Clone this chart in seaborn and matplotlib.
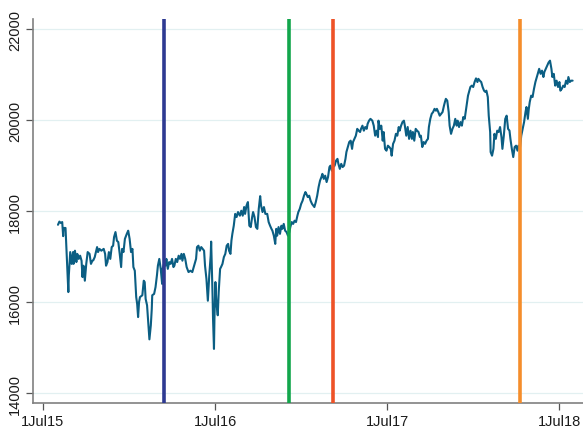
import numpy as np
import pandas as pd
import matplotlib
matplotlib.use("Agg")
import matplotlib.pyplot as plt
import matplotlib.dates as mdates
import seaborn as sns

# Trading-day offsets (days after 1 Jul 2015) and index closing levels
days = [32, 35, 38, 41, 43, 44, 48, 51, 54, 55, 58, 61, 64, 65, 68, 71, 73, 76, 79, 82,
        84, 86, 89, 92, 95, 99, 102, 105, 107, 110, 115, 117, 120, 124, 129, 132, 134, 137, 140, 143,
        146, 149, 151, 154, 157, 160, 163, 166, 168, 171, 174, 178, 181, 184, 187, 190, 192, 195, 198, 200,
        202, 204, 206, 211, 214, 216, 218, 221, 224, 226, 229, 231, 232, 236, 239, 242, 244, 247, 250, 253,
        254, 257, 260, 262, 265, 268, 271, 274, 277, 279, 282, 285, 288, 291, 294, 296, 299, 302, 305, 309,
        313, 317, 322, 325, 327, 330, 333, 336, 339, 342, 344, 347, 350, 353, 356, 357, 360, 361, 363, 364,
        366, 368, 371, 373, 376, 378, 381, 384, 387, 390, 393, 395, 398, 400, 402, 405, 408, 411, 414, 418,
        421, 424, 427, 429, 432, 435, 438, 441, 444, 446, 449, 452, 455, 458, 461, 463, 466, 469, 472, 476,
        479, 482, 485, 487, 490, 493, 495, 497, 500, 503, 506, 508, 511, 514, 517, 520, 523, 525, 528, 531,
        534, 537, 540, 542, 545, 548, 551, 554, 557, 559, 562, 565, 568, 571, 574, 576, 579, 582, 585, 588,
        591, 593, 596, 599, 602, 605, 608, 610, 613, 616, 619, 622, 625, 627, 630, 633, 636, 639, 642, 644,
        647, 650, 653, 656, 658, 661, 664, 667, 670, 673, 675, 678, 681, 684, 687, 689, 692, 695, 699, 702,
        705, 708, 711, 712, 715, 718, 721, 723, 726, 729, 732, 735, 738, 740, 743, 746, 749, 752, 755, 757,
        760, 763, 766, 768, 771, 774, 777, 780, 783, 785, 788, 791, 794, 797, 800, 802, 805, 808, 811, 814,
        817, 819, 822, 825, 828, 831, 834, 836, 839, 842, 845, 848, 851, 853, 855, 858, 861, 863, 866, 869,
        872, 875, 878, 880, 883, 886, 889, 892, 895, 899, 902, 905, 907, 910, 913, 916, 919, 922, 924, 927,
        930, 933, 936, 939, 941, 944, 946, 949, 950, 953, 956, 958, 961, 964, 967, 970, 973, 975, 978, 981,
        984, 987, 990, 992, 995, 998, 1001, 1004, 1007, 1009, 1012, 1015, 1018, 1021, 1024, 1026, 1029, 1031, 1033, 1036,
        1039, 1042, 1045, 1047, 1050, 1053, 1056, 1059, 1062, 1064, 1067, 1070, 1073, 1076, 1079, 1081, 1084, 1087, 1090, 1093,
        1096, 1098, 1101, 1104, 1107, 1110, 1113, 1115, 1118, 1121, 1124]

close = [17700, 17770, 17740, 17760, 17450, 17630, 17630, 16950, 16220, 16590, 17100, 16840, 17100, 16840, 17130, 16880, 17060, 16950, 17020, 16910,
         16550, 16800, 16470, 16840, 17100, 17060, 16840, 16910, 16920, 16990, 17210, 17100, 17170, 17130, 17170, 17060, 16800, 16880, 17100, 16950,
         17210, 17240, 17430, 17540, 17350, 17320, 17060, 16770, 17170, 17100, 17390, 17500, 17570, 17390, 17100, 17170, 16770, 16690, 16110, 15960,
         15670, 16000, 16110, 16150, 16470, 16440, 16070, 15930, 15490, 15180, 15490, 15850, 16150, 16180, 16330, 16590, 16800, 16950, 16730, 16400,
         16730, 16840, 16800, 16950, 16730, 16880, 16840, 16950, 16770, 16800, 16950, 16880, 17020, 16950, 17060, 16910, 17060, 16950, 16770, 16660,
         16690, 16660, 16840, 16950, 17210, 17240, 17130, 17210, 17170, 17130, 16800, 16510, 16030, 16590, 17020, 17330, 16150, 15630, 14970, 15630,
         16440, 16000, 15710, 16220, 16730, 16770, 16840, 16990, 17060, 17240, 17280, 17130, 17060, 17350, 17500, 17680, 17940, 17870, 17980, 17900,
         18010, 17900, 18090, 17940, 18120, 18200, 17680, 17650, 17870, 17980, 17870, 17650, 17610, 18050, 18330, 18120, 17980, 18090, 17940, 17940,
         17760, 17680, 17610, 17570, 17460, 17280, 17610, 17460, 17650, 17500, 17680, 17610, 17720, 17570, 17540, 17460, 17540, 17650, 17760, 17720,
         17790, 17760, 17900, 17980, 18050, 18160, 18230, 18340, 18420, 18380, 18310, 18340, 18230, 18160, 18120, 18090, 18200, 18340, 18530, 18670,
         18750, 18820, 18710, 18780, 18640, 18750, 18970, 19000, 18890, 18970, 19000, 19110, 19150, 19040, 18930, 19040, 18970, 19000, 19150, 19300,
         19410, 19520, 19550, 19370, 19520, 19590, 19660, 19810, 19770, 19740, 19810, 19880, 19770, 19850, 19810, 19920, 19990, 20030, 19990, 19880,
         19660, 19770, 19630, 19990, 19810, 19880, 19550, 19740, 19370, 19330, 19440, 19410, 19370, 19220, 19480, 19550, 19700, 19660, 19850, 19770,
         19880, 19960, 19990, 19880, 19660, 19850, 19590, 19770, 19590, 19740, 19550, 19810, 19770, 19740, 19630, 19660, 19410, 19520, 19480, 19550,
         19590, 19850, 20030, 20140, 20180, 20250, 20210, 20250, 20180, 20100, 20140, 20180, 20320, 20400, 20470, 20430, 20180, 19880, 19700, 19810,
         19880, 20030, 19880, 19990, 19850, 19960, 19880, 20070, 20030, 20320, 20540, 20650, 20730, 20760, 20730, 20840, 20920, 20840, 20910, 20870,
         20840, 20730, 20650, 20620, 20650, 20510, 20100, 19740, 19300, 19220, 19370, 19700, 19590, 19770, 19740, 19850, 19630, 19370, 19660, 20030,
         20100, 19810, 19770, 19590, 19370, 19190, 19410, 19440, 19330, 19440, 19370, 19660, 19810, 19960, 20180, 20290, 20030, 20250, 20400, 20540,
         20510, 20690, 20840, 20910, 21020, 21130, 21020, 21090, 20950, 21060, 21130, 21200, 21270, 21310, 21130, 20950, 21020, 20760, 20870, 20730,
         20840, 20650, 20690, 20760, 20730, 20870, 20800, 20950, 20840, 20870, 20870]

# Event dates marked with vertical lines
event_dates = ["2016-03-15", "2016-12-04", "2017-03-07", "2018-04-09"]
event_colors = ["#2e3a92", "#12a64c", "#ee5227", "#f58d2b"]

y_ticks = [14000, 16000, 18000, 20000, 22000]
x_tick_dates = ["2015-07-01", "2016-07-01", "2017-07-01", "2018-07-01"]
x_tick_labels = ["1Jul15", "1Jul16", "1Jul17", "1Jul18"]

start = pd.Timestamp("2015-07-01")
df = pd.DataFrame({
    "date": start + pd.to_timedelta(days, unit="D"),
    "close": close,
})

sns.set_theme(style="white")
plt.rcParams["font.family"] = ["Liberation Sans", "DejaVu Sans"]

fig = plt.figure(figsize=(5.83, 4.31), dpi=100)
ax = fig.add_axes([33 / 583, 1 - 403.7 / 431, 1 - 33 / 583, (403.7 - 20) / 431])

for d in y_ticks:
    ax.axhline(d, color="#e2f0f1", lw=0.9, zorder=0)

sns.lineplot(data=df, x="date", y="close", ax=ax, color="#0b5e83", lw=1.5, zorder=2)

for d, c in zip(event_dates, event_colors):
    ax.axvline(pd.Timestamp(d), color=c, lw=2.6, zorder=3)

ax.set_xlim(pd.Timestamp("2015-06-10"), pd.Timestamp("2018-08-20"))
ax.set_ylim(13787, 22226)

ax.set_yticks(y_ticks)
ax.set_yticklabels([str(v) for v in y_ticks], rotation=90, va="center", fontsize=10.5, color="#1a1a1a")
ax.set_xticks([pd.Timestamp(d) for d in x_tick_dates])
ax.set_xticklabels(x_tick_labels, fontsize=10.5, color="#1a1a1a")
ax.tick_params(axis="both", which="both", length=5, width=0.9, color="#555555",
               direction="out", left=True, bottom=True)
ax.tick_params(axis="y", pad=3)
ax.tick_params(axis="x", pad=3)

ax.set_xlabel("")
ax.set_ylabel("")
for side in ["top", "right"]:
    ax.spines[side].set_visible(False)
for side in ["left", "bottom"]:
    ax.spines[side].set_color("#808080")
    ax.spines[side].set_linewidth(1.2)

fig.savefig("out.png", dpi=100)
